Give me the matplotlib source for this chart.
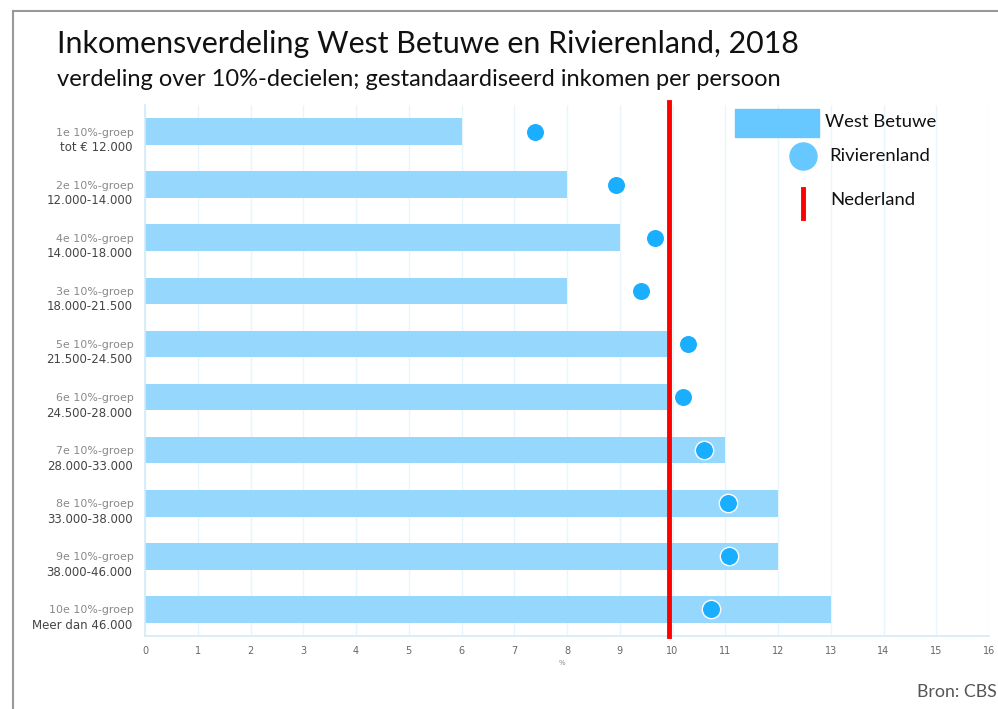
import numpy as np
import matplotlib.pyplot as plt
from matplotlib.patches import Rectangle
from matplotlib.lines import Line2D

# data
groups = ['1e 10%-groep', '2e 10%-groep', '4e 10%-groep', '3e 10%-groep', '5e 10%-groep',
          '6e 10%-groep', '7e 10%-groep', '8e 10%-groep', '9e 10%-groep', '10e 10%-groep']
ranges = ['tot € 12.000', '12.000-14.000', '14.000-18.000', '18.000-21.500', '21.500-24.500',
          '24.500-28.000', '28.000-33.000', '33.000-38.000', '38.000-46.000', 'Meer dan 46.000']
west_betuwe = [6, 8, 9, 8, 9.9, 9.9, 11, 12, 12, 13]
rivierenland = [7.4, 8.93, 9.67, 9.4, 10.29, 10.2, 10.6, 11.05, 11.07, 10.73]
nederland = 9.93
xticks = list(range(0, 17))

W, H = 998, 709
fig = plt.figure(figsize=(W / 100, H / 100), dpi=100)
plt.rcParams['font.family'] = ['Lato', 'DejaVu Sans']

def fx(px):
	return px / W

def fy(py):
	return 1 - py / H

ax = fig.add_axes([fx(145), fy(636), fx(989) - fx(145), fy(105) - fy(636)])

y = np.arange(len(groups))
ax.barh(y, west_betuwe, height=0.5, color='#95d7fd', zorder=2)
ax.axvline(nederland, color='#ff0000', lw=3.5, zorder=3, ymax=1.005, clip_on=False)
ax.scatter(rivierenland, y, s=175, color='#1aaeff', edgecolor='white', linewidth=1, zorder=4)

ax.set_xlim(0, 16)
ax.set_ylim(len(groups) - 0.5, -0.5)
ax.set_xticks(xticks)
ax.set_xticklabels([str(t) for t in xticks], fontsize=7, color='#666666', family='DejaVu Sans')
ax.tick_params(axis='x', length=0, pad=7)
ax.set_yticks([])
ax.grid(axis='x', color='#e8f5fd', lw=1, zorder=0)
for s in ['top', 'right']:
	ax.spines[s].set_visible(False)
for s in ['left', 'bottom']:
	ax.spines[s].set_color('#d4eaf7')
	ax.spines[s].set_linewidth(1.2)

# two-line category labels
for i in range(len(groups)):
	ax.annotate(groups[i], (0, i), xytext=(-8, -0.7), textcoords='offset points',
				ha='right', va='center', fontsize=7.9, color='#888888', family='DejaVu Sans')
	ax.annotate(ranges[i], (0, i), xytext=(-9, -11.5), textcoords='offset points',
				ha='right', va='center', fontsize=8.5, color='#444444', family='DejaVu Sans')

ax.text(7.9, -0.045, '%', transform=ax.get_xaxis_transform(), fontsize=5, color='#888888',
		ha='center', va='top', family='DejaVu Sans')

# titles and source
fig.text(fx(57), fy(44), 'Inkomensverdeling West Betuwe en Rivierenland, 2018', fontsize=21.9,
		 color='#111111', va='center')
fig.text(fx(57), fy(79), 'verdeling over 10%-decielen; gestandaardiseerd inkomen per persoon',
		 fontsize=17, color='#111111', va='center')
fig.text(fx(997), fy(692), 'Bron: CBS', fontsize=12.8, color='#555555', ha='right', va='center')

# frame
fig.add_artist(Line2D([fx(13), fx(13)], [fy(11), 0], color='#999999', lw=1.5))
fig.add_artist(Line2D([fx(13), 1], [fy(11), fy(11)], color='#999999', lw=1.5))

# legend
fig.add_artist(Rectangle((fx(735), fy(137)), fx(84), fy(109) - fy(137), color='#66c8ff'))
fig.text(fx(825), fy(122), 'West Betuwe', fontsize=13.3, color='#111111', va='center')
fig.add_artist(Line2D([fx(803)], [fy(156)], marker='o', markersize=19.5, color='#66c8ff', lw=0))
fig.text(fx(829), fy(156), 'Rivierenland', fontsize=13.3, color='#111111', va='center')
fig.add_artist(Line2D([fx(803), fx(803)], [fy(189), fy(218)], color='#ff0000', lw=3.5))
fig.text(fx(830), fy(200), 'Nederland', fontsize=13.3, color='#111111', va='center')

fig.savefig('out.png', dpi=100)
